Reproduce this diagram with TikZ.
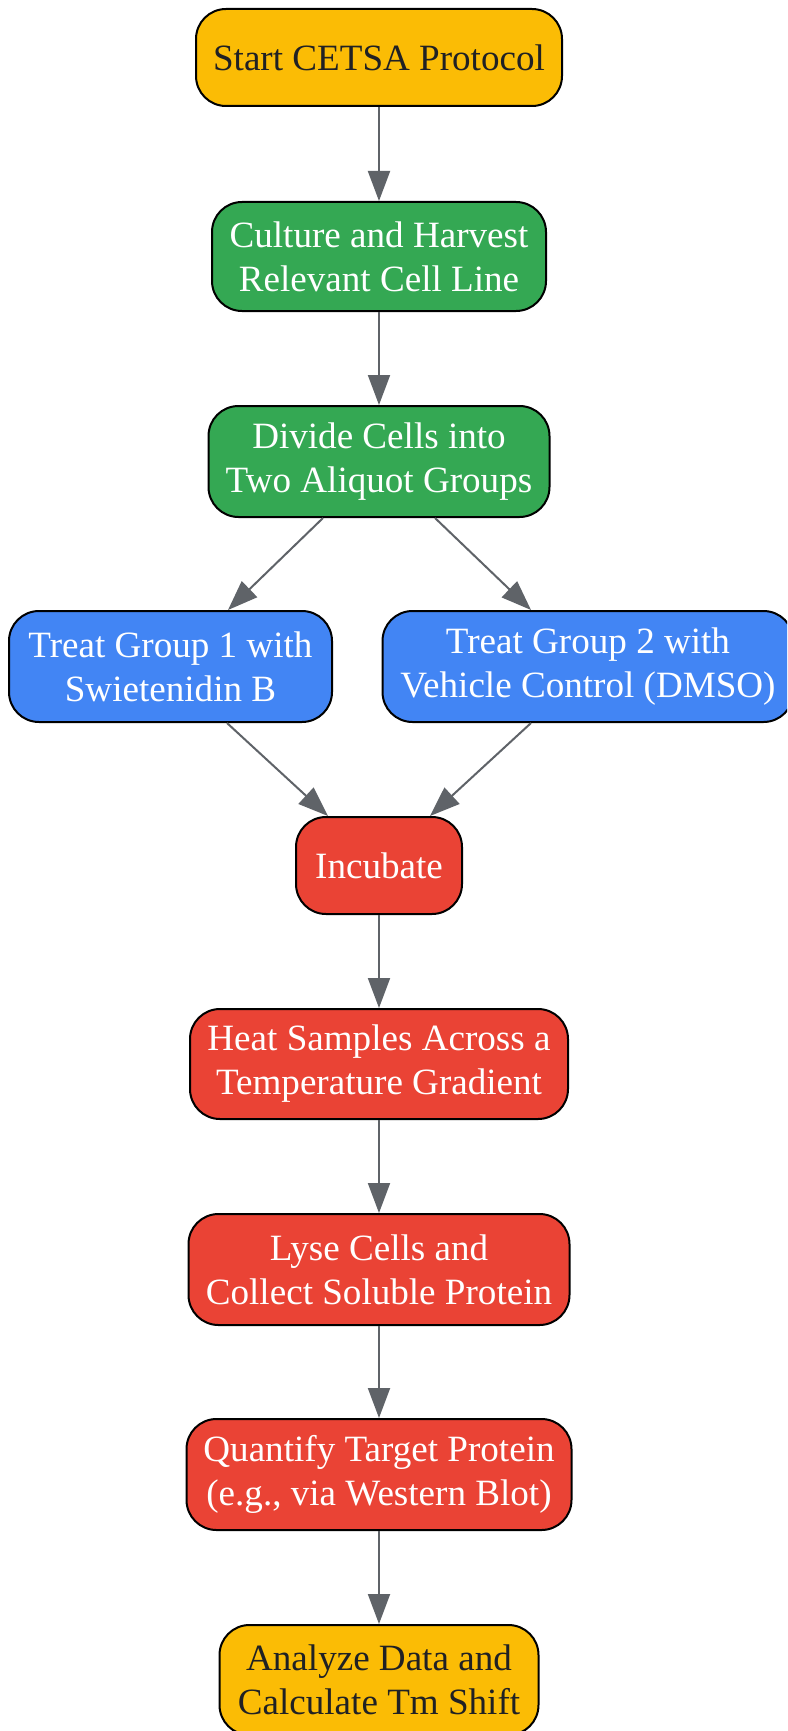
\documentclass[tikz,border=0pt]{standalone}
\usepackage{fontspec}
\setmainfont{Liberation Serif}
\usetikzlibrary{arrows.meta}
\definecolor{gyellow}{HTML}{FBBC05}
\definecolor{ggreen}{HTML}{34A853}
\definecolor{gblue}{HTML}{4285F4}
\definecolor{gred}{HTML}{EA4335}
\definecolor{gtext}{HTML}{202124}
\definecolor{gedge}{HTML}{5F6368}
\tikzset{
  box/.style={draw=black, line width=2pt, rounded corners=30pt, inner sep=0pt,
    align=center, font=\fontsize{37.1}{44}\selectfont},
  yellowbox/.style={box, fill=gyellow, text=gtext},
  greenbox/.style={box, fill=ggreen, text=white},
  bluebox/.style={box, fill=gblue, text=white},
  redbox/.style={box, fill=gred, text=white},
  arr/.style={draw=gedge, line width=2pt, -{Triangle[length=30pt,width=22pt]}},
}
\begin{document}
\begin{tikzpicture}[x=1pt,y=-1pt]
\clip (0,0) rectangle (787,1731);
\fill[white] (0,0) rectangle (787,1731);
\node[yellowbox, minimum width=366pt, minimum height=97pt] (start) at (379,57.5) {Start CETSA Protocol};
\node[greenbox, minimum width=334pt, minimum height=109pt] (culture) at (379,256.5) {Culture and Harvest\\Relevant Cell Line};
\node[greenbox, minimum width=341pt, minimum height=111pt] (divide) at (379,461.5) {Divide Cells into\\Two Aliquot Groups};
\node[bluebox, minimum width=323pt, minimum height=111pt] (t1) at (170.5,666.5) {Treat Group 1 with\\Swietenidin B};
\node[bluebox, minimum width=411pt, minimum height=111pt] (t2) at (588,666.5) {Treat Group 2 with\\Vehicle Control (DMSO)};
\node[redbox, minimum width=166pt, minimum height=97pt] (incubate) at (379,865.5) {Incubate};
\node[redbox, minimum width=378pt, minimum height=110pt] (heat) at (379,1064) {Heat Samples Across a\\Temperature Gradient};
\node[redbox, minimum width=381pt, minimum height=111pt] (lyse) at (379,1269.5) {Lyse Cells and\\Collect Soluble Protein};
\node[redbox, minimum width=385pt, minimum height=111pt] (quant) at (379,1474.5) {Quantify Target Protein\\(e.g., via Western Blot)};
\node[yellowbox, minimum width=319pt, minimum height=110pt] (analyze) at (379,1680) {Analyze Data and\\Calculate Tm Shift};
\draw[arr] (start) -- (culture);
\draw[arr] (culture) -- (divide);
\draw[arr] ([xshift=-56pt]divide.south) -- ([xshift=57.5pt]t1.north);
\draw[arr] ([xshift=56pt]divide.south) -- ([xshift=-57pt]t2.north);
\draw[arr] ([xshift=56.5pt]t1.south) -- ([xshift=-51pt]incubate.north);
\draw[arr] ([xshift=-57pt]t2.south) -- ([xshift=51pt]incubate.north);
\draw[arr] (incubate) -- (heat);
\draw[arr] (heat) -- (lyse);
\draw[arr] (lyse) -- (quant);
\draw[arr] (quant) -- (analyze);
\end{tikzpicture}
\end{document}
